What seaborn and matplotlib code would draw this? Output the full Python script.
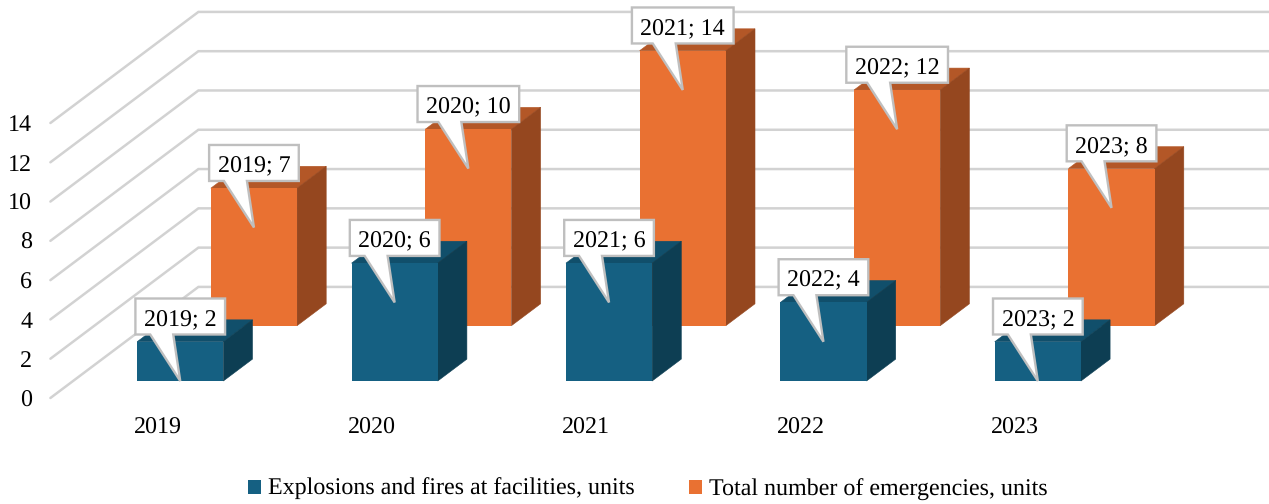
import matplotlib
matplotlib.use("Agg")
import matplotlib.pyplot as plt
from matplotlib.patches import Patch, Polygon
from matplotlib.transforms import Affine2D
import pandas as pd
import seaborn as sns

years = [2019, 2020, 2021, 2022, 2023]
explosions = [2, 6, 6, 4, 2]
emergencies = [7, 10, 14, 12, 8]
y_ticks = [0, 2, 4, 6, 8, 10, 12, 14]
name_a = "Explosions and fires at facilities, units"
name_b = "Total number of emergencies, units"

W, H = 1269, 504
sns.set_theme(style="white")
plt.rcParams["font.family"] = ["Liberation Serif", "DejaVu Serif"]
plt.rcParams["text.color"] = "black"
plt.rcParams["text.hinting"] = "no_hinting"
FS = 17.3

C_A = ("#156082", "#114F6B", "#0D3E53")
C_B = ("#E97132", "#B35727", "#95471F")
GRID = "#D2D2D2"
EDGE = "#BFBFBF"

fig = plt.figure(figsize=(W / 100, H / 100), dpi=100)
ax = fig.add_axes([50.4 / W, (H - 398) / H, 1072 / W, 275 / H])

# oblique projection: one full floor depth in data units
DX, DY = 148 / 214.4, 111.3 / 19.68
BAR_W = 0.402
BAR_D = 0.197
D_A, D_B = 0.153, 0.651


def proj(x, v, d):
    return x + d * DX, v + d * DY


def draw_series(values, depth, colors, z):
    df = pd.DataFrame({"year": years, "value": values})
    sns.barplot(data=df, x="year", y="value", color=colors[0], saturation=1,
                width=BAR_W, ax=ax, zorder=z + 0.1, clip_on=False, linewidth=0,
                transform=Affine2D().translate(depth * DX, depth * DY) + ax.transData)
    for i, v in enumerate(values):
        l, r = i - BAR_W / 2, i + BAR_W / 2
        top = [proj(l, v, depth), proj(r, v, depth),
               proj(r, v, depth + BAR_D), proj(l, v, depth + BAR_D)]
        side = [proj(r, 0, depth), proj(r, v, depth),
                proj(r, v, depth + BAR_D), proj(r, 0, depth + BAR_D)]
        ax.add_patch(Polygon(top, closed=True, fc=colors[1], ec=colors[1], lw=0.4, zorder=z, clip_on=False))
        ax.add_patch(Polygon(side, closed=True, fc=colors[2], ec=colors[2], lw=0.4, zorder=z, clip_on=False))


draw_series(emergencies, D_B, C_B, 3)
draw_series(explosions, D_A, C_A, 4)

ax.set_xlim(-0.5, 4.5)
ax.set_ylim(0, 14)
ax.set_yticks(y_ticks)
ax.set_xlabel("")
ax.set_ylabel("")
ax.tick_params(axis="y", length=0, pad=13, labelsize=FS, labelcolor="black")
ax.tick_params(axis="x", length=0, pad=14, labelsize=FS, labelcolor="black")
for lab in ax.get_xticklabels():
    lab.set_x(lab.get_position()[0])
sns.despine(ax=ax, left=True, bottom=True)

# walls
for v in y_ticks:
    xs, ys = zip(proj(-0.5, v, 0), proj(-0.5, v, 1), proj(4.5, v, 1))
    ax.plot(xs, ys, color=GRID, lw=1.8, zorder=1, clip_on=False, solid_joinstyle="miter")

# callouts
renderer = fig.canvas.get_renderer()


def callout(i, val, depth, z):
    cx, cy = proj(i, val - 2, depth)
    tx, ty = ax.transData.transform((cx, cy))
    t = ax.text(tx, ty + 63.3, f"{years[i]}; {val}", transform=None, ha="center",
                va="center_baseline", fontsize=FS, color="black", zorder=z + 1)
    half = t.get_window_extent(renderer).width / 2 + 8.5
    pts = [(-half, 46.5), (-30, 46.5), (0, 0), (-7, 46.5), (half, 46.5),
           (half, 82.5), (-half, 82.5)]
    pts = [(tx + a, ty + b) for a, b in pts]
    ax.add_patch(Polygon(pts, closed=True, fc="white", ec=EDGE, lw=1.7, transform=None,
                         zorder=z, clip_on=False, joinstyle="miter"))


for i, val in enumerate(emergencies):
    callout(i, val, D_B, 5)
for i, val in enumerate(explosions):
    callout(i, val, D_A, 7)

handles = [Patch(fc=C_A[0], ec="none", label=name_a), Patch(fc=C_B[0], ec="none", label=name_b)]
fig.legend(handles=handles, loc="center", bbox_to_anchor=(648 / W, (H - 489.5) / H), ncol=2,
           frameon=False, fontsize=FS, handlelength=0.55, handleheight=0.55,
           handletextpad=0.29, columnspacing=2.26, borderpad=0, borderaxespad=0)

fig.savefig("out.png", dpi=100, facecolor="white")
